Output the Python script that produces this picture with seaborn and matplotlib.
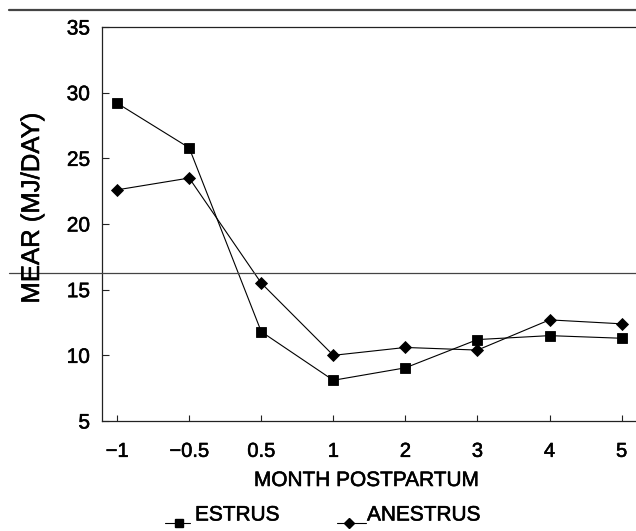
import matplotlib
matplotlib.use("Agg")
import matplotlib.pyplot as plt
import matplotlib.patheffects as pe
import seaborn as sns
import pandas as pd
from matplotlib.lines import Line2D

months = ["\u22121", "\u22120.5", "0.5", "1", "2", "3", "4", "5"]
estrus = [29.2, 25.8, 11.8, 8.1, 9.05, 11.2, 11.5, 11.3]
anestrus = [22.6, 23.5, 15.5, 10.0, 10.6, 10.4, 12.7, 12.4]
groups = ["ESTRUS", "ANESTRUS"]
y_ticks = [5, 10, 15, 20, 25, 30, 35]

df = pd.DataFrame({
    "month": months * 2,
    "value": estrus + anestrus,
    "group": [groups[0]] * len(months) + [groups[1]] * len(months),
})

sns.set_theme(style="white")
plt.rcParams["font.family"] = ["Liberation Sans", "DejaVu Sans"]
plt.rcParams["text.color"] = "black"
plt.rcParams["xtick.color"] = "black"
plt.rcParams["ytick.color"] = "black"

W, H = 636, 531
fig = plt.figure(figsize=(W / 100, H / 100), dpi=100)
ax = fig.add_axes([102 / W, 1 - 421 / H, 1 - 102 / W, (421 - 27) / H])

sns.pointplot(data=df, x="month", y="value", hue="group", order=months,
              hue_order=groups, palette=["black", "black"], markers=["s", "D"],
              linestyles=["-", "-"], errorbar=None, legend=False, ax=ax,
              linewidth=0.8)

for ln in ax.lines:
    m = ln.get_marker()
    if m == "s":
        ln.set_markersize(7)
    elif m == "D":
        ln.set_markersize(6.2)
    ln.set_linewidth(0.8)
for c in ax.collections:
    c.set_visible(False)

thick = [pe.withStroke(linewidth=0.4, foreground="black")]

ax.set_xlim(-0.21, 7.2)
ax.set_ylim(5, 35)
ax.set_yticks(y_ticks)
ax.set_yticklabels([str(t) for t in y_ticks], fontsize=15)
ax.tick_params(axis="y", direction="in", length=5, width=0.8, color="#222222", pad=8.6, left=True)
ax.tick_params(axis="x", direction="in", length=4.5, width=0.8, color="#222222", pad=15, labelsize=14.5, bottom=True)
for lab in ax.get_xticklabels() + ax.get_yticklabels():
    lab.set_path_effects(thick)
ax.set_xlabel("")
ax.set_ylabel("")
for s in ["left", "bottom", "top"]:
    ax.spines[s].set_visible(True)
    ax.spines[s].set_color("#222222")
    ax.spines[s].set_linewidth(0.9)
ax.spines["right"].set_visible(False)
ax.grid(False)

fig.text(367 / W, 1 - 480.5 / H, "MONTH POSTPARTUM", ha="center", va="center", fontsize=15, path_effects=thick)
fig.text(32 / W, 1 - 208 / H, "MEAR (MJ/DAY)", ha="center", va="center", rotation=90, fontsize=18.5, path_effects=thick)

# horizontal rules from the scanned page
fig.add_artist(Line2D([9 / W, 1], [1 - 9.5 / H, 1 - 9.5 / H], transform=fig.transFigure, color="#444444", lw=1.6))
fig.add_artist(Line2D([9 / W, 1], [1 - 273.3 / H, 1 - 273.3 / H], transform=fig.transFigure, color="#444444", lw=0.9))

# legend (handles sit below the text baseline)
fig.add_artist(Line2D([165 / W, 190 / W], [1 - 523 / H] * 2, transform=fig.transFigure, color="black", lw=0.8))
fig.add_artist(Line2D([179 / W], [1 - 522.5 / H], transform=fig.transFigure, color="black", marker="s", markersize=6, lw=0))
fig.text(195 / W, 1 - 515 / H, groups[0], ha="left", va="center", fontsize=15, path_effects=thick)
fig.add_artist(Line2D([337 / W, 366 / W], [1 - 523 / H] * 2, transform=fig.transFigure, color="black", lw=0.8))
fig.add_artist(Line2D([349 / W], [1 - 522.5 / H], transform=fig.transFigure, color="black", marker="D", markersize=5, lw=0))
fig.text(367 / W, 1 - 515 / H, groups[1], ha="left", va="center", fontsize=15, path_effects=thick)

fig.savefig("out.png", dpi=100, facecolor="white")
